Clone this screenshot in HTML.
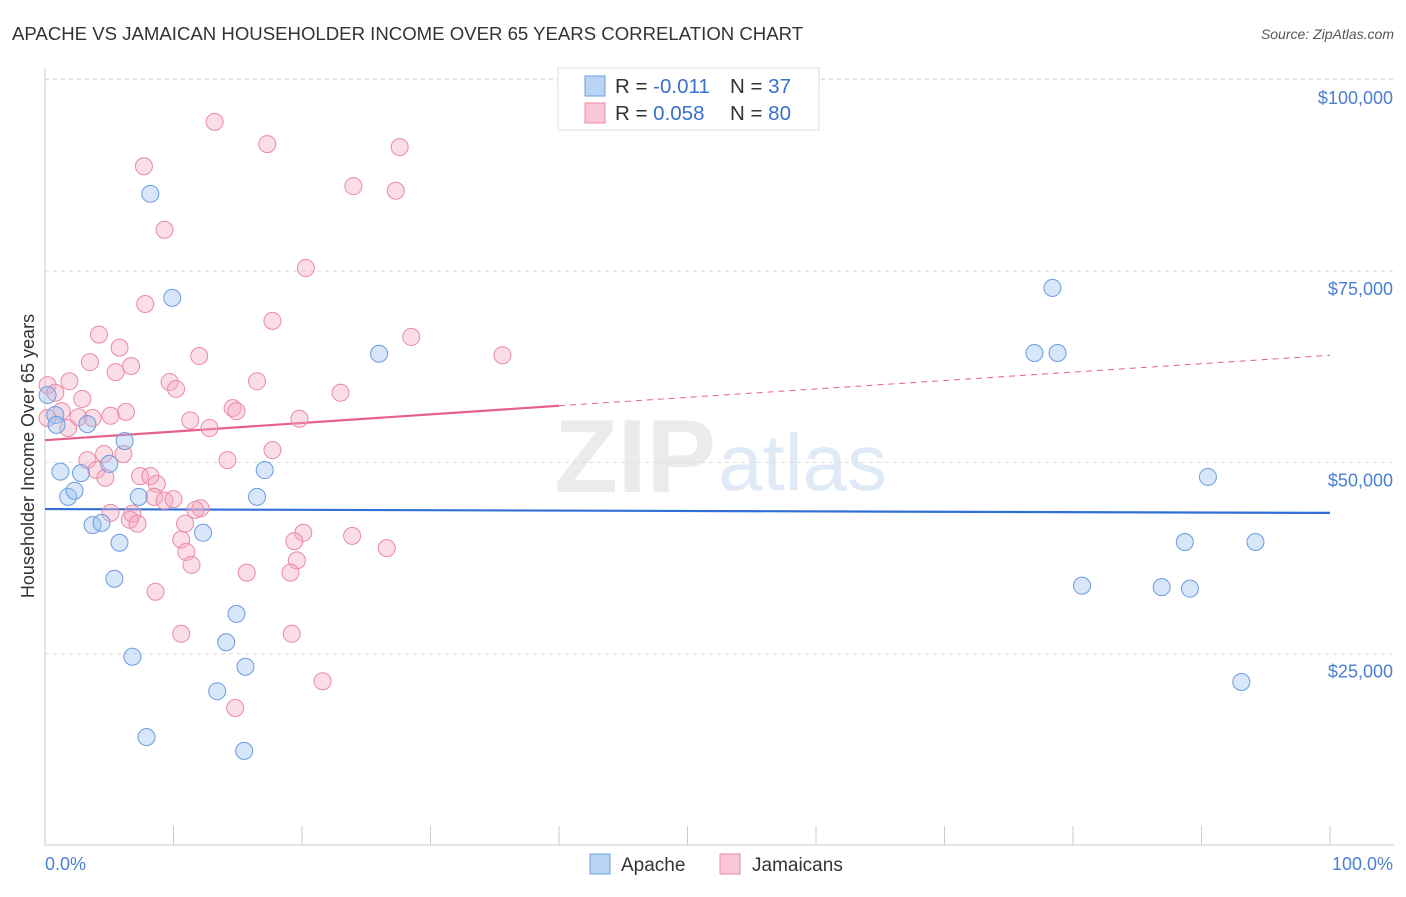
<!DOCTYPE html>
<html><head><meta charset="utf-8"><style>
body{margin:0;background:#fff;font-family:"Liberation Sans",sans-serif;}
svg text{font-family:"Liberation Sans",sans-serif;}
</style></head><body>
<svg id="chart" width="1406" height="892" viewBox="0 0 1406 892">
<text x="12" y="40" font-size="18.6" fill="#333">APACHE VS JAMAICAN HOUSEHOLDER INCOME OVER 65 YEARS CORRELATION CHART</text>
<text x="1394" y="39" font-size="14" fill="#555" font-style="italic" text-anchor="end">Source: ZipAtlas.com</text>
<text x="716" y="492" font-size="104" fill="#ebebeb" font-family="Liberation Serif" text-anchor="end" font-weight="bold">ZIP</text>
<text x="718" y="490" font-size="80" fill="#dfeaf6">atlas</text>
<g id="grid"></g>
<g id="axes"></g>
<g id="trend"></g>
<g id="points"></g>
<text transform="translate(34,456) rotate(-90)" font-size="18" fill="#333" text-anchor="middle">Householder Income Over 65 years</text>
<text x="45" y="870" font-size="18" fill="#4a7fd4">0.0%</text>
<text x="1393" y="870" font-size="18" fill="#4a7fd4" text-anchor="end">100.0%</text>
<g>
<rect x="558" y="68" width="261" height="62" fill="#fff" stroke="#ddd"/>
<rect x="585" y="76" width="20" height="20" fill="#bcd4f4" stroke="#6d9fe0"/>
<rect x="585" y="103" width="20" height="20" fill="#f9c6d5" stroke="#e889a8"/>
<text x="615" y="93" font-size="20.5" fill="#333">R = <tspan fill="#3a6fd0">-0.011</tspan></text>
<text x="730" y="93" font-size="20.5" fill="#333">N = <tspan fill="#3a6fd0">37</tspan></text>
<text x="615" y="120" font-size="20.5" fill="#333">R = <tspan fill="#3a6fd0">0.058</tspan></text>
<text x="730" y="120" font-size="20.5" fill="#333">N = <tspan fill="#3a6fd0">80</tspan></text>
</g>
<g>
<rect x="590" y="854" width="20" height="20" fill="#bcd4f4" stroke="#6d9fe0"/>
<text x="621" y="871" font-size="19" fill="#333">Apache</text>
<rect x="720" y="854" width="20" height="20" fill="#f9c6d5" stroke="#e889a8"/>
<text x="752" y="871" font-size="19" fill="#333">Jamaicans</text>
</g>
</svg>
<script>
const yTicks=[25000,50000,75000,100000];
const yTickLabels=["$25,000","$50,000","$75,000","$100,000"];
const xTicks=[0,10,20,30,40,50,60,70,80,90,100];
const apacheX=[8.2,9.9,26.0,78.4,77.0,78.8,90.5,88.7,94.2,80.7,86.9,89.1,93.1,0.2,0.8,0.9,3.3,1.2,2.8,5.0,6.2,1.8,2.3,7.3,17.1,16.5,3.7,4.4,5.8,12.3,5.4,14.9,14.1,6.8,15.6,13.4,7.9,15.5];
const apacheY=[85100,71500,64200,72800,64300,64300,48100,39600,39600,33900,33700,33500,21300,58800,56200,54900,55000,48800,48600,49800,52800,45500,46300,45500,49000,45500,41800,42100,39500,40800,34800,30200,26500,24600,23300,20100,14100,12300];
const jamX=[13.2,17.3,27.6,7.7,24.0,27.3,9.3,20.3,7.8,17.7,4.2,28.5,5.8,12.0,35.6,3.5,6.7,5.5,16.5,9.7,1.9,10.2,23.0,0.2,0.8,2.9,1.3,6.3,14.6,14.9,0.2,2.6,3.7,5.1,11.3,19.8,1.8,12.8,4.6,6.1,17.7,14.2,3.3,4.0,4.7,7.4,8.2,8.7,8.5,9.3,10.0,12.1,11.7,5.1,6.8,6.6,7.2,10.9,10.6,11.0,20.1,23.9,19.4,26.6,19.6,11.4,15.7,19.1,8.6,10.6,19.2,21.6,14.8];
const jamY=[94500,91600,91200,88700,86100,85500,80400,75400,70700,68500,66700,66400,65000,63900,64000,63100,62600,61800,60600,60500,60600,59600,59100,60100,59100,58300,56700,56600,57100,56700,55800,55900,55800,56100,55500,55700,54500,54500,51100,51100,51600,50300,50300,49000,48000,48200,48200,47200,45500,45000,45200,44000,43800,43400,43300,42500,42000,42000,39900,38300,40800,40400,39700,38800,37200,36600,35600,35600,33100,27600,27600,21400,17900];
const apacheTrend=[43900,43400];
const jamTrend=[52900,57400,64000];
const jamTrendX=[0,40,100];

const X0=45,X1=1330,YB=845,PPY=191.3/25000;
const sx=v=>X0+(X1-X0)*v/100;
const sy=v=>YB-v*PPY;
const NS="http://www.w3.org/2000/svg";
function mk(tag,attrs,parent){const e=document.createElementNS(NS,tag);for(const k in attrs)e.setAttribute(k,attrs[k]);parent.appendChild(e);return e;}
const grid=document.getElementById('grid'),axes=document.getElementById('axes'),trend=document.getElementById('trend'),pts=document.getElementById('points');
yTicks.forEach((t,i)=>{
 const l=mk('line',{x1:X0,x2:1394,y1:sy(t),y2:sy(t),stroke:'#dcdcdc','stroke-dasharray':'4,4'},grid);
 
 
 const tx=mk('text',{x:1393,y:sy(t)+24,'font-size':18,fill:'#4a7fd4','text-anchor':'end'},grid);
 tx.textContent=yTickLabels[i];
 
 
});
const topLine=mk('line',{x1:X0,x2:1394,y1:79,y2:79,stroke:'#dcdcdc','stroke-dasharray':'4,4'},grid);


const ya=mk('line',{x1:X0,x2:X0,y1:68,y2:YB,stroke:'#ccc'},axes);


const xa=mk('line',{x1:X0,x2:1394,y1:YB,y2:YB,stroke:'#ccc'},axes);


xTicks.forEach(t=>{
 const l=mk('line',{x1:sx(t),x2:sx(t),y1:826,y2:YB,stroke:'#ccc'},axes);
 
 
});
function dot(x,y,fill,stroke,name){
 const c=mk('circle',{cx:sx(x),cy:sy(y),r:8.5,fill:fill,'fill-opacity':0.4,stroke:stroke,'stroke-width':1},pts);
 
 
}
jamX.forEach((x,i)=>dot(x,jamY[i],'#f4a9c0','#e98aa8','jamaican-point'));
apacheX.forEach((x,i)=>dot(x,apacheY[i],'#9cc0ee','#6b9be0','apache-point'));
const bt=mk('line',{x1:sx(0),x2:sx(100),y1:sy(apacheTrend[0]),y2:sy(apacheTrend[1]),stroke:'#2f6fd6','stroke-width':2.2},trend);


const pt=mk('line',{x1:sx(jamTrendX[0]),x2:sx(jamTrendX[1]),y1:sy(jamTrend[0]),y2:sy(jamTrend[1]),stroke:'#e5608a','stroke-width':2.2},trend);


const pd=mk('line',{x1:sx(jamTrendX[1]),x2:sx(jamTrendX[2]),y1:sy(jamTrend[1]),y2:sy(jamTrend[2]),stroke:'#e5608a','stroke-width':1,'stroke-dasharray':'6,5'},trend);


</script>
</body></html>
